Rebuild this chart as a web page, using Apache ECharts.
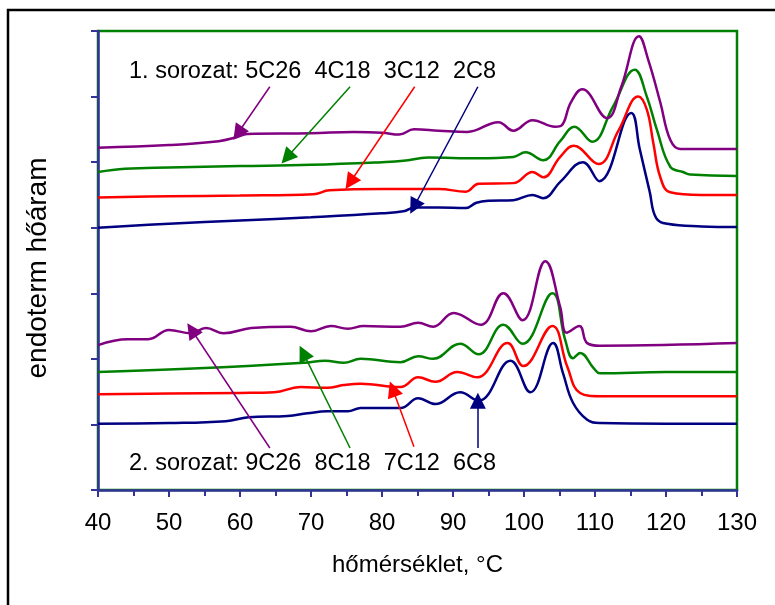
<!DOCTYPE html>
<html><head><meta charset="utf-8">
<script src="https://cdn.jsdelivr.net/npm/echarts@6/dist/echarts.min.js"></script>
<style>html,body{margin:0;padding:0;background:#fff}#c{width:775px;height:605px}</style>
</head><body><div id="c"></div>
<script>
// ---- data (temperature °C, relative heat flow) ----
const xTicks = [40, 50, 60, 70, 80, 90, 100, 110, 120, 130];

// 1. sorozat
const s1_2C8_T  = [40, 50, 60, 70, 80, 83.0, 84.6, 88, 91.8, 93.3, 95, 98.5, 101.2, 102.7, 105.1, 108.3, 110.6, 115.1, 116.3, 117.7, 118.6, 120.2, 125, 130];
const s1_2C8_v  = [4.00, 4.06, 4.11, 4.16, 4.22, 4.25, 4.31, 4.31, 4.30, 4.38, 4.41, 4.42, 4.50, 4.45, 4.70, 5.00, 4.71, 5.75, 5.20, 4.55, 4.15, 4.06, 4.02, 4.01];
const s1_3C12_T = [40, 50, 60, 70.3, 72.6, 80, 88, 91.8, 93.6, 98.5, 101.2, 102.7, 105.1, 107.0, 110.5, 113.3, 116.1, 117.3, 118.2, 119.2, 120.6, 125, 130];
const s1_3C12_v = [4.46, 4.48, 4.49, 4.51, 4.57, 4.59, 4.59, 4.55, 4.67, 4.68, 4.85, 4.77, 5.08, 5.25, 4.97, 5.48, 6.00, 5.80, 5.30, 4.77, 4.54, 4.50, 4.50];
const s1_4C18_T = [40, 43.8, 50, 60, 70, 80, 83, 86.5, 93.4, 98.5, 100.2, 102.7, 105.1, 107.1, 109.6, 112.5, 115.6, 117.3, 118.7, 120.6, 122.4, 123.4, 130];
const s1_4C18_v = [4.85, 4.90, 4.92, 4.94, 4.96, 5.00, 5.02, 5.07, 5.06, 5.08, 5.15, 5.03, 5.32, 5.54, 5.31, 5.84, 6.41, 6.00, 5.50, 4.93, 4.85, 4.81, 4.79];
const s1_5C26_T = [40, 50, 57, 59.5, 61, 70, 76, 80, 82.4, 84.5, 88, 92, 96.4, 98.5, 101.2, 104.4, 105.3, 106.6, 108.2, 111.7, 113.7, 116.2, 117.5, 119.2, 120.6, 122.0, 130];
const s1_5C26_v = [5.22, 5.26, 5.32, 5.38, 5.43, 5.44, 5.46, 5.45, 5.42, 5.50, 5.48, 5.46, 5.61, 5.48, 5.64, 5.54, 5.56, 5.91, 6.11, 5.67, 6.15, 6.92, 6.56, 5.91, 5.34, 5.20, 5.20];

// 2. sorozat
const s2_6C8_T  = [40, 50, 58, 61.2, 66.7, 69.5, 72.3, 75.2, 77, 82.6, 85.1, 87.5, 91.0, 93.6, 98.1, 100.9, 104.1, 105.5, 106.9, 108.9, 110.7, 120, 130];
const s2_6C8_v  = [1.01, 1.02, 1.05, 1.11, 1.13, 1.17, 1.20, 1.20, 1.25, 1.25, 1.40, 1.31, 1.49, 1.36, 1.97, 1.49, 2.24, 1.78, 1.33, 1.07, 1.02, 1.01, 1.01];
const s2_7C12_T = [40, 50, 60, 64.8, 68.5, 72.3, 74.6, 77, 82.6, 85.1, 87.5, 90.6, 93.4, 97.7, 99.9, 104.0, 106.1, 107.9, 110.7, 120, 130];
const s2_7C12_v = [1.46, 1.47, 1.48, 1.49, 1.57, 1.56, 1.60, 1.62, 1.57, 1.72, 1.65, 1.80, 1.72, 2.24, 1.89, 2.50, 1.88, 1.48, 1.43, 1.43, 1.43];
const s2_8C18_T = [40, 55, 69, 72, 74.6, 77, 82.6, 85.1, 87.2, 91.0, 93.6, 97.1, 99.8, 104.0, 105.8, 106.9, 107.9, 109.8, 110.7, 120, 130];
const s2_8C18_v = [1.80, 1.86, 1.94, 1.97, 1.94, 2.00, 1.95, 2.04, 2.00, 2.23, 2.07, 2.52, 2.23, 3.00, 2.29, 2.01, 2.09, 1.86, 1.78, 1.80, 1.80];
const s2_9C26_T = [40, 44.2, 47.1, 50.0, 53.1, 55.2, 57.7, 61.6, 67.1, 70.0, 72.8, 75.2, 77.4, 82.6, 85.1, 87.2, 90.1, 93.9, 97.1, 99.8, 103.0, 105.1, 106.0, 107.8, 108.9, 110.7, 130];
const s2_9C26_v = [2.21, 2.30, 2.30, 2.44, 2.39, 2.47, 2.39, 2.47, 2.49, 2.42, 2.50, 2.46, 2.50, 2.49, 2.55, 2.49, 2.70, 2.52, 3.00, 2.59, 3.49, 2.79, 2.40, 2.50, 2.24, 2.20, 2.24];

// annotation arrows: [startT, startV, tipT, tipV]
const arrow_5C26 = [64.2, 6.15, 59.7, 5.44];
const arrow_4C18 = [75.5, 6.15, 66.6, 5.07];
const arrow_3C12 = [84.6, 6.15, 75.5, 4.69];
const arrow_2C8  = [93.5, 6.15, 84.5, 4.32];
const arrow_9C26 = [64.2, 0.64, 53.2, 2.44];
const arrow_8C18 = [75.5, 0.64, 68.9, 2.09];
const arrow_7C12 = [84.5, 0.66, 81.5, 1.54];
const arrow_6C8  = [93.5, 0.64, 93.5, 1.36];

const label1 = '1. sorozat: 5C26  4C18  3C12  2C8';
const label2 = '2. sorozat: 9C26  8C18  7C12  6C8';
const xName = 'hőmérséklet, °C';
const yName = 'endoterm hőáram';

// ---- build ----
const PURPLE = '#800080', GREEN = '#008000', RED = '#ff0000', NAVY = '#000080', AXIS = '#333399';
const FONT = '"Liberation Sans", Arial, sans-serif';
function zip(a, b) { return a.map((t, i) => [t, b[i]]); }
function mk(name, T, V, color, arrow) {
  return {
    name, type: 'line', data: zip(T, V), smooth: 0.42, showSymbol: false, symbol: 'none',
    lineStyle: { color, width: 2.5 }, itemStyle: { color },
    markLine: {
      silent: true, symbol: ['none', 'triangle'], symbolSize: 16, animation: false,
      label: { show: false },
      itemStyle: { color },
      lineStyle: { color, width: 1.5, type: 'solid' },
      emphasis: { disabled: true },
      data: [[{ coord: [arrow[0], arrow[1]] }, { coord: [arrow[2], arrow[3]] }]]
    }
  };
}

const chart = echarts.init(document.getElementById('c'), null, { renderer: 'canvas' });
chart.setOption({
  animation: false,
  backgroundColor: '#fff',
  textStyle: { fontFamily: FONT },
  grid: { left: 98, right: 38, top: 31, bottom: 115, show: true, borderColor: GREEN, borderWidth: 2.5, backgroundColor: 'transparent' },
  xAxis: {
    type: 'value', min: 40, max: 130, interval: 10,
    name: xName, nameLocation: 'middle', nameGap: 63,
    nameTextStyle: { fontFamily: FONT, fontSize: 24, color: '#000' },
    axisLine: { show: true, lineStyle: { color: AXIS, width: 2.5 } },
    axisTick: { show: true, length: 7, lineStyle: { color: AXIS, width: 2 } },
    minorTick: { show: true, splitNumber: 2, length: 6, lineStyle: { color: AXIS, width: 2 } },
    axisLabel: { fontFamily: FONT, fontSize: 24, color: '#000', margin: 21, formatter: v => xTicks.includes(v) ? String(v) : '' },
    splitLine: { show: false }
  },
  yAxis: {
    type: 'value', min: 0, max: 7, interval: 1,
    axisLine: { show: true, lineStyle: { color: AXIS, width: 2.5 } },
    axisTick: { show: true, length: 7, lineStyle: { color: AXIS, width: 2 } },
    axisLabel: { show: false },
    splitLine: { show: false }
  },
  graphic: [
    { type: 'rect', shape: { x: 8, y: 10, width: 820, height: 700 }, style: { fill: 'none', stroke: '#000', lineWidth: 2.5 }, z: -1, silent: true },
    { type: 'text', left: 129, top: 60, style: { text: label1, font: '23.5px ' + FONT, fill: '#000' } },
    { type: 'text', left: 129, top: 452, style: { text: label2, font: '23.5px ' + FONT, fill: '#000' } },
    { type: 'text', x: 38, y: 268, rotation: Math.PI / 2,
      style: { text: yName, font: '28px ' + FONT, fill: '#000', align: 'center', verticalAlign: 'middle' } }
  ],
  series: [
    mk('2C8', s1_2C8_T, s1_2C8_v, NAVY, arrow_2C8),
    mk('3C12', s1_3C12_T, s1_3C12_v, RED, arrow_3C12),
    mk('4C18', s1_4C18_T, s1_4C18_v, GREEN, arrow_4C18),
    mk('5C26', s1_5C26_T, s1_5C26_v, PURPLE, arrow_5C26),
    mk('6C8', s2_6C8_T, s2_6C8_v, NAVY, arrow_6C8),
    mk('7C12', s2_7C12_T, s2_7C12_v, RED, arrow_7C12),
    mk('8C18', s2_8C18_T, s2_8C18_v, GREEN, arrow_8C18),
    mk('9C26', s2_9C26_T, s2_9C26_v, PURPLE, arrow_9C26)
  ]
});
</script></body></html>
